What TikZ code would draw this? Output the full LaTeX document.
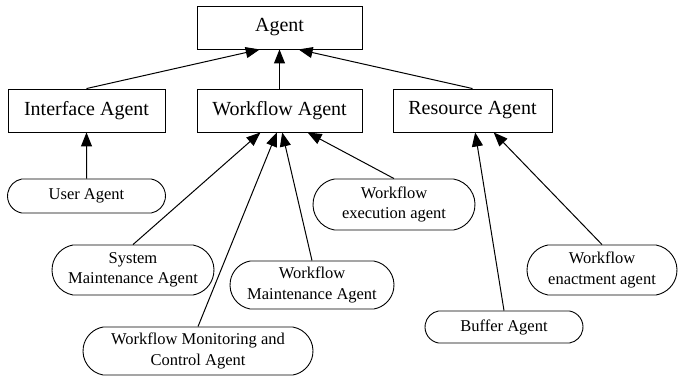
\documentclass[tikz,border=0pt]{standalone}
\usepackage{fontspec}
\setmainfont{Liberation Serif}
\usetikzlibrary{shapes.misc,arrows.meta}
\begin{document}
\begin{tikzpicture}[x=1pt,y=-1pt,
    box/.style={draw,line width=0.9pt,minimum height=43pt,inner sep=0pt,font=\fontsize{20}{22}\selectfont},
    role/.style={draw,line width=0.9pt,rounded rectangle,rounded rectangle arc length=160,inner sep=0pt,align=center,font=\fontsize{16.5}{20.5}\selectfont},
    isa/.style={-{Triangle[length=14pt,width=11pt]},line width=1pt}]
    \useasboundingbox (0,0) rectangle (678,376);
    % top level
    \node[box,minimum width=165pt] (agent) at (279.5,27.5) {Agent};
    \node[box,minimum width=157pt] (iface) at (86.5,110.5) {Interface Agent};
    \node[box,minimum width=165pt] (wfa) at (279.5,110.5) {Workflow Agent};
    \node[box,minimum width=159pt] (res) at (472.5,110.5) {Resource Agent};
    % agents
    \node[role,minimum width=158pt,minimum height=34pt] (user) at (86.5,196) {User Agent};
    \node[role,minimum width=162pt,minimum height=50pt] (sysm) at (133,270) {System\\Maintenance Agent};
    \node[role,minimum width=230pt,minimum height=48pt] (mon) at (198,351) {Workflow Monitoring and\\Control Agent};
    \node[role,minimum width=164pt,minimum height=48pt] (wfm) at (312,285) {Workflow\\Maintenance Agent};
    \node[role,minimum width=162pt,minimum height=51pt] (exec) at (394,204.5) {Workflow\\execution agent};
    \node[role,minimum width=150pt,minimum height=50pt] (enact) at (602,270) {Workflow\\enactment agent};
    \node[role,minimum width=158pt,minimum height=32pt] (buf) at (504,327) {Buffer Agent};
    % inheritance
    \draw[isa] (iface.north) -- (agent.-132);
    \draw[isa] (wfa) -- (agent);
    \draw[isa] (res.north) -- (agent.-49);
    \draw[isa] (user) -- (iface);
    \draw[isa] (sysm.north) -- (wfa.-131);
    \draw[isa] (mon.north) -- (wfa.-97);
    \draw[isa] (wfm.north) -- (wfa.-83);
    \draw[isa] (exec.north) -- (wfa.-38);
    \draw[isa] (buf.north) -- (res.-83);
    \draw[isa] (enact.north) -- (res.-46);
\end{tikzpicture}
\end{document}
